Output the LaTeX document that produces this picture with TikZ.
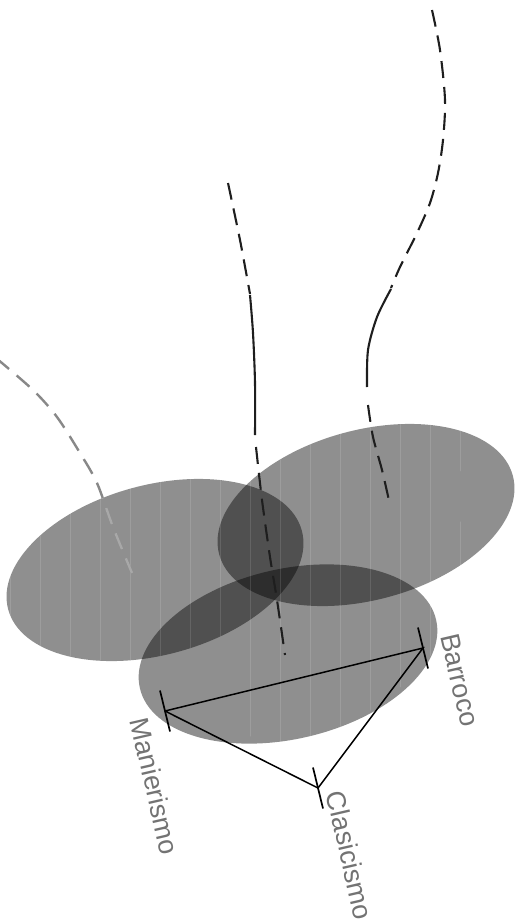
\documentclass[tikz,border=0pt]{standalone}
\usepackage{fontspec}
\setmainfont{Liberation Sans}
\definecolor{lblgray}{RGB}{115,115,115}
\definecolor{trgray}{RGB}{136,136,136}
\definecolor{trlight}{RGB}{168,168,168}
\definecolor{lnblack}{RGB}{30,30,30}
\usetikzlibrary{positioning}

\begin{document}
\begin{tikzpicture}[x=1pt,y=-1pt,
  blob/.style={fill=black,fill opacity=0.44},
  trace/.style={line width=2.1pt,color=lnblack},
  dashtrace/.style={trace,dash pattern=on 17pt off 9pt},
  side/.style={line width=1.5pt,black},
  tickmark/.style={line width=1.7pt,black},
  lbl/.style={inner sep=0pt,rotate=-77,text=lblgray,font=\fontsize{27}{30}\selectfont}]
  \useasboundingbox (0,0) rectangle (519,921);
  % zones
  \fill[blob,rotate around={15:(155,570)}] (155,570) ellipse [x radius=152,y radius=85];
  \fill[blob,rotate around={15:(366,515)}] (366,515) ellipse [x radius=152,y radius=85];
  \fill[blob,rotate around={13:(288,654)}] (288,654) ellipse [x radius=152,y radius=85];
  \begin{scope}
    \clip[rotate around={15:(155,570)}] (155,570) ellipse [x radius=152,y radius=85]
      [rotate around={15:(366,515)}] (366,515) ellipse [x radius=152,y radius=85]
      [rotate around={13:(288,654)}] (288,654) ellipse [x radius=152,y radius=85];
    \foreach \sx in {10,40,...,520}
      \draw[white,opacity=0.12,line width=0.8pt] (\sx,400) -- (\sx,760);
  \end{scope}
  % traces
  \draw[line width=2.4pt,trgray,dash pattern=on 17pt off 10pt]
    plot[smooth] coordinates {(-4,358) (33,390) (57,417) (80,453) (97,483) (113,527) (132,573)};
  \begin{scope}
    \clip[rotate around={15:(155,570)}] (155,570) ellipse [x radius=152,y radius=85];
    \draw[line width=2.4pt,trlight,dash pattern=on 17pt off 10pt]
      plot[smooth] coordinates {(-4,358) (33,390) (57,417) (80,453) (97,483) (113,527) (132,573)};
  \end{scope}
  \draw[dashtrace] plot[smooth] coordinates {(228,183) (240,240) (250,294)};
  \draw[trace] plot[smooth] coordinates {(250,295) (253,333) (255,383) (255,435)};
  \draw[dashtrace] plot[smooth] coordinates {(256,447) (262,500) (270,557) (277,600) (285,655)};
  \draw[dashtrace] plot[smooth] coordinates {(432,10) (440,50) (445,100) (443,140) (438,173) (430,203) (417,233) (400,267) (391,288)};
  \draw[trace] plot[smooth] coordinates {(391,289) (377,317) (368,350) (367,387)};
  \draw[dashtrace] plot[smooth] coordinates {(368,405) (373,437) (382,470) (390,505)};
  % triangle
  \coordinate (man) at (165,711);
  \coordinate (bar) at (423,648);
  \coordinate (cla) at (318,788);
  \draw[side] (man) -- (bar) -- (cla) -- (man);
  \foreach \v in {man,bar,cla}
    \draw[tickmark] ([shift={(-5,-20.5)}]\v) -- ([shift={(5,20.5)}]\v);
  \node[lbl] (lman) at (155,786) {Manierismo};
  \node[lbl] (lbar) at (460,680) {Barroco};
  \node[lbl] (lcla) at (350,855) {Clasicismo};
\end{tikzpicture}
\end{document}
